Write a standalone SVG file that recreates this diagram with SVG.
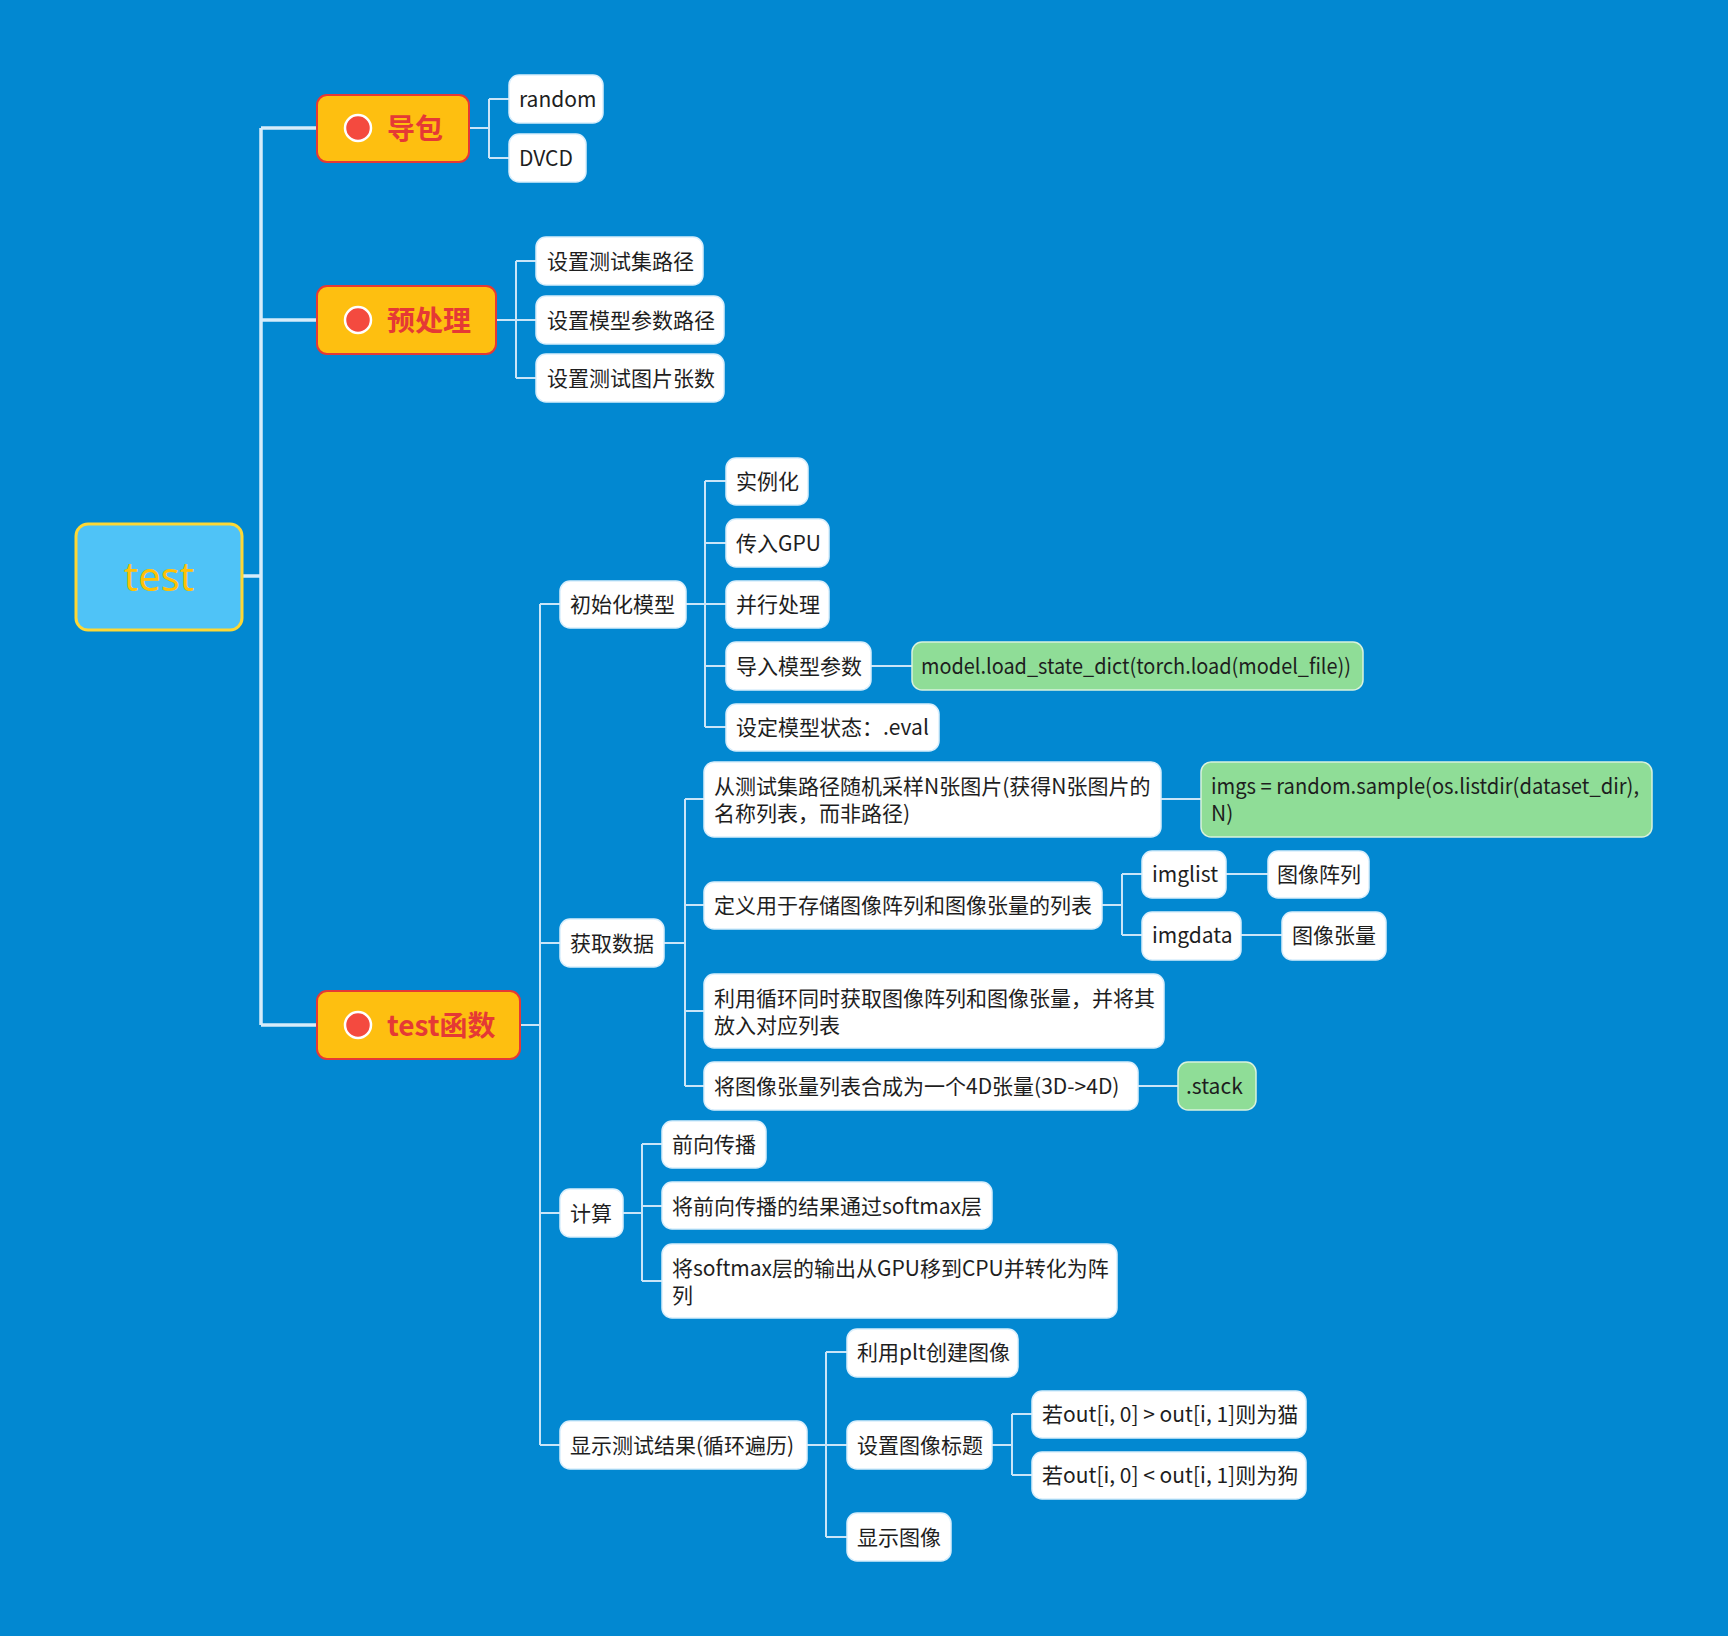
<svg xmlns="http://www.w3.org/2000/svg" width="1728" height="1636" viewBox="0 0 1728 1636">
<style>
.bg{fill:#0288D1}
.n rect{fill:#FFFFFF;stroke:#D9EEFC;stroke-width:1.5}
.g rect{fill:#8FDD97;stroke:#D9F2DC;stroke-width:1.5}
.t{font-family:"Noto Sans CJK SC","Noto Sans",sans-serif;font-size:21px;fill:#1E1E1E;dominant-baseline:central}
.m rect{fill:#FEBF10;stroke:#E53935;stroke-width:2}
.m circle{fill:#F44A3F;stroke:#FFFFFF;stroke-width:2.5}
.mt{font-family:"Noto Sans CJK SC","Noto Sans",sans-serif;font-size:28px;font-weight:bold;fill:#E53935;dominant-baseline:central}
.c{fill:none;stroke:#C9E5F8;stroke-width:2}
.trunk{fill:none;stroke:#D6ECFA;stroke-width:3.5}
</style>
<rect class="bg" x="0" y="0" width="1728" height="1636"/>

<g id="connectors">
  <path class="trunk" d="M242,576 H261 M261,128 V1025 M261,128 H317 M261,320 H317 M261,1025 H317"/>
  <path class="c" d="M469,128 H489 M489,99 V158 M489,99 H509 M489,158 H509"/>
  <path class="c" d="M496,320 H516 M516,261 V378 M516,261 H536 M516,320 H536 M516,378 H536"/>
  <path class="c" d="M520,1025 H540 M540,604 V1445 M540,604 H560 M540,943 H560 M540,1213 H560 M540,1445 H560"/>
  <path class="c" d="M686,604 H705 M705,481 V727 M705,481 H726 M705,543 H726 M705,604 H726 M705,666 H726 M705,727 H726"/>
  <path class="c" d="M871,666 H912"/>
  <path class="c" d="M664,943 H685 M685,799 V1086 M685,799 H704 M685,905 H704 M685,1011 H704 M685,1086 H704"/>
  <path class="c" d="M1161,799 H1201"/>
  <path class="c" d="M1102,905 H1122 M1122,874 V935 M1122,874 H1142 M1122,935 H1142"/>
  <path class="c" d="M1226,874 H1268 M1241,935 H1282 M1138,1086 H1178"/>
  <path class="c" d="M623,1213 H642 M642,1144 V1281 M642,1144 H662 M642,1206 H662 M642,1281 H662"/>
  <path class="c" d="M807,1445 H826 M826,1352 V1537 M826,1352 H847 M826,1445 H847 M826,1537 H847"/>
  <path class="c" d="M992,1445 H1012 M1012,1414 V1475 M1012,1414 H1032 M1012,1475 H1032"/>
</g>

<g id="root">
  <rect x="76" y="524" width="166" height="106" rx="12" fill="#4FC3F7" stroke="#FDD835" stroke-width="3"/>
  <text x="159" y="575" text-anchor="middle" font-family="Noto Sans, sans-serif" font-size="40" fill="#FFC107" dominant-baseline="central">test</text>
</g>

<g id="daobao" class="m">
  <rect x="317" y="95" width="152" height="67" rx="10"/>
  <circle cx="358" cy="128" r="13"/>
  <text class="mt" x="387" y="127">导包</text>
</g>
<g id="random" class="n"><rect x="509" y="75" width="94" height="48" rx="10"/><text class="t" x="519" y="98">random</text></g>
<g id="dvcd" class="n"><rect x="509" y="134" width="77" height="48" rx="10"/><text class="t" x="519" y="157">DVCD</text></g>

<g id="yuchuli" class="m">
  <rect x="317" y="286" width="179" height="68" rx="10"/>
  <circle cx="358" cy="320" r="13"/>
  <text class="mt" x="387" y="319">预处理</text>
</g>
<g id="p1" class="n"><rect x="536" y="237" width="167" height="48" rx="10"/><text class="t" x="547" y="260">设置测试集路径</text></g>
<g id="p2" class="n"><rect x="536" y="296" width="188" height="48" rx="10"/><text class="t" x="547" y="319">设置模型参数路径</text></g>
<g id="p3" class="n"><rect x="536" y="354" width="188" height="48" rx="10"/><text class="t" x="547" y="377">设置测试图片张数</text></g>

<g id="testfunc" class="m">
  <rect x="317" y="991" width="203" height="68" rx="10"/>
  <circle cx="358" cy="1025" r="13"/>
  <text class="mt" x="387" y="1024">test函数</text>
</g>

<g id="init" class="n"><rect x="560" y="581" width="126" height="47" rx="10"/><text class="t" x="570" y="603">初始化模型</text></g>
<g id="i1" class="n"><rect x="726" y="458" width="82" height="47" rx="10"/><text class="t" x="736" y="480">实例化</text></g>
<g id="i2" class="n"><rect x="726" y="519" width="103" height="48" rx="10"/><text class="t" x="736" y="542">传入GPU</text></g>
<g id="i3" class="n"><rect x="726" y="581" width="103" height="47" rx="10"/><text class="t" x="736" y="603">并行处理</text></g>
<g id="i4" class="n"><rect x="726" y="642" width="145" height="48" rx="10"/><text class="t" x="736" y="665">导入模型参数</text></g>
<g id="i4g" class="g"><rect x="912" y="642" width="451" height="48" rx="10"/><text class="t" x="921" y="665" textLength="430" lengthAdjust="spacingAndGlyphs">model.load_state_dict(torch.load(model_file))</text></g>
<g id="i5" class="n"><rect x="726" y="704" width="213" height="47" rx="10"/><text class="t" x="736" y="726">设定模型状态：.eval</text></g>

<g id="getdata" class="n"><rect x="560" y="919" width="104" height="48" rx="10"/><text class="t" x="570" y="942">获取数据</text></g>
<g id="d1" class="n"><rect x="704" y="762" width="457" height="75" rx="10"/><text class="t" x="714" y="785">从测试集路径随机采样N张图片(获得N张图片的</text><text class="t" x="714" y="812">名称列表，而非路径)</text></g>
<g id="d1g" class="g"><rect x="1201" y="762" width="451" height="75" rx="10"/><text class="t" x="1211" y="785" textLength="428" lengthAdjust="spacingAndGlyphs">imgs = random.sample(os.listdir(dataset_dir),</text><text class="t" x="1211" y="812">N)</text></g>
<g id="d2" class="n"><rect x="704" y="882" width="398" height="47" rx="10"/><text class="t" x="714" y="904">定义用于存储图像阵列和图像张量的列表</text></g>
<g id="imglist" class="n"><rect x="1142" y="851" width="84" height="47" rx="10"/><text class="t" x="1152" y="873">imglist</text></g>
<g id="arr" class="n"><rect x="1268" y="851" width="101" height="47" rx="10"/><text class="t" x="1277" y="873">图像阵列</text></g>
<g id="imgdata" class="n"><rect x="1142" y="912" width="99" height="48" rx="10"/><text class="t" x="1152" y="934">imgdata</text></g>
<g id="tensor" class="n"><rect x="1282" y="912" width="104" height="48" rx="10"/><text class="t" x="1292" y="934">图像张量</text></g>
<g id="d3" class="n"><rect x="704" y="974" width="460" height="74" rx="10"/><text class="t" x="714" y="997">利用循环同时获取图像阵列和图像张量，并将其</text><text class="t" x="714" y="1024">放入对应列表</text></g>
<g id="d4" class="n"><rect x="704" y="1062" width="434" height="48" rx="10"/><text class="t" x="714" y="1085">将图像张量列表合成为一个4D张量(3D-&gt;4D)</text></g>
<g id="stack" class="g"><rect x="1178" y="1062" width="78" height="48" rx="10"/><text class="t" x="1186" y="1085">.stack</text></g>

<g id="calc" class="n"><rect x="560" y="1189" width="63" height="48" rx="10"/><text class="t" x="570" y="1212">计算</text></g>
<g id="c1" class="n"><rect x="662" y="1121" width="104" height="47" rx="10"/><text class="t" x="672" y="1143">前向传播</text></g>
<g id="c2" class="n"><rect x="662" y="1182" width="330" height="47" rx="10"/><text class="t" x="672" y="1205">将前向传播的结果通过softmax层</text></g>
<g id="c3" class="n"><rect x="662" y="1244" width="455" height="74" rx="10"/><text class="t" x="672" y="1267">将softmax层的输出从GPU移到CPU并转化为阵</text><text class="t" x="672" y="1294">列</text></g>

<g id="show" class="n"><rect x="560" y="1421" width="247" height="48" rx="10"/><text class="t" x="570" y="1444">显示测试结果(循环遍历)</text></g>
<g id="s1" class="n"><rect x="847" y="1329" width="171" height="48" rx="10"/><text class="t" x="857" y="1351">利用plt创建图像</text></g>
<g id="s2" class="n"><rect x="847" y="1421" width="145" height="48" rx="10"/><text class="t" x="857" y="1444">设置图像标题</text></g>
<g id="s2a" class="n"><rect x="1032" y="1391" width="274" height="47" rx="10"/><text class="t" x="1042" y="1413">若out[i, 0] &gt; out[i, 1]则为猫</text></g>
<g id="s2b" class="n"><rect x="1032" y="1452" width="274" height="47" rx="10"/><text class="t" x="1042" y="1474">若out[i, 0] &lt; out[i, 1]则为狗</text></g>
<g id="s3" class="n"><rect x="847" y="1513" width="104" height="48" rx="10"/><text class="t" x="857" y="1536">显示图像</text></g>
</svg>
